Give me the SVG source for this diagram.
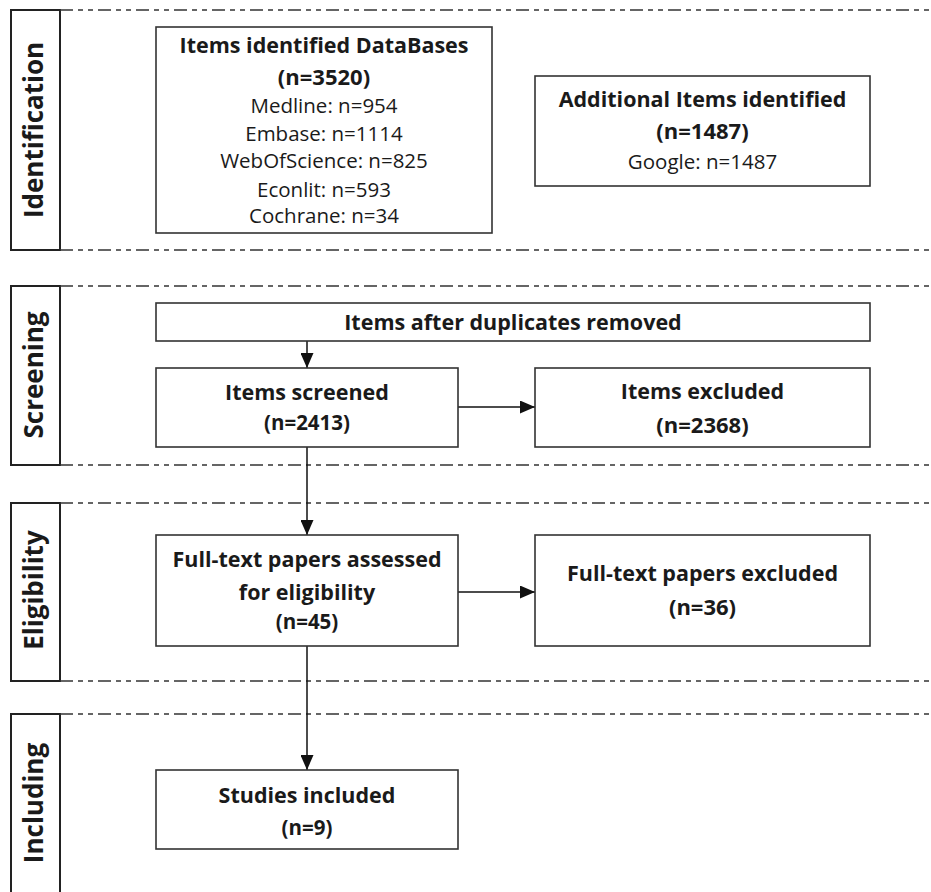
<svg xmlns="http://www.w3.org/2000/svg" width="931" height="892" viewBox="0 0 931 892">
<defs>
<marker id="ah" markerWidth="15" markerHeight="13" refX="15" refY="6.5" orient="auto" markerUnits="userSpaceOnUse">
<path d="M0,0 L15,6.5 L0,13 Z" fill="#111"/>
</marker>
<style>
.lane{fill:none;stroke:#222;stroke-width:2}
.dash{stroke:#333;stroke-width:1.6;stroke-dasharray:13 5 5 5 5 5;fill:none}
.box{fill:#fff;stroke:#333;stroke-width:1.6}
.conn{stroke:#111;stroke-width:1.5;fill:none}
text{font-family:"Open Sans",Lato,"Liberation Sans",sans-serif;fill:#1a1a1a;text-anchor:middle}
.t{font-weight:700;font-size:21.5px}
.n{font-weight:700;font-size:22px}
.s{font-weight:700;font-size:20.5px}
.r{font-size:20.5px}
.lbl{font-weight:700;font-size:26px}
</style>
</defs>
<rect width="931" height="892" fill="#fff"/>
<g id="lanes">
<g id="lane-identification">
<rect class="lane" x="11" y="10" width="49" height="240"/>
<line class="dash" x1="60" y1="10" x2="931" y2="10"/>
<line class="dash" x1="60" y1="250" x2="931" y2="250"/>
<text class="lbl" transform="translate(43,130) rotate(-90)">Identification</text>
</g>
<g id="lane-screening">
<rect class="lane" x="11" y="286" width="49" height="179"/>
<line class="dash" x1="60" y1="286" x2="931" y2="286"/>
<line class="dash" x1="60" y1="465" x2="931" y2="465"/>
<text class="lbl" transform="translate(43,375) rotate(-90)">Screening</text>
</g>
<g id="lane-eligibility">
<rect class="lane" x="11" y="503" width="49" height="178"/>
<line class="dash" x1="60" y1="503" x2="931" y2="503"/>
<line class="dash" x1="60" y1="681" x2="931" y2="681"/>
<text class="lbl" transform="translate(43,590) rotate(-90)">Eligibility</text>
</g>
<g id="lane-including">
<path class="lane" d="M11,893 L11,714 L60,714 L60,893"/>
<line class="dash" x1="60" y1="714" x2="931" y2="714"/>
<text class="lbl" transform="translate(43,803) rotate(-90)">Including</text>
</g>
</g>
<g id="connectors">
<line class="conn" x1="307" y1="341" x2="307" y2="368" marker-end="url(#ah)"/>
<line class="conn" x1="458" y1="407" x2="535" y2="407" marker-end="url(#ah)"/>
<line class="conn" x1="307" y1="447" x2="307" y2="535" marker-end="url(#ah)"/>
<line class="conn" x1="458" y1="592" x2="535" y2="592" marker-end="url(#ah)"/>
<line class="conn" x1="307" y1="646" x2="307" y2="770" marker-end="url(#ah)"/>
</g>
<g id="databases">
<rect class="box" x="156" y="27" width="336" height="206"/>
<text class="t" x="324" y="53">Items identified DataBases</text>
<text class="n" x="324" y="85">(n=3520)</text>
<text class="r" x="324" y="113">Medline: n=954</text>
<text class="r" x="324" y="141">Embase: n=1114</text>
<text class="r" x="324" y="168">WebOfScience: n=825</text>
<text class="r" x="324" y="197">Econlit: n=593</text>
<text class="r" x="324" y="223">Cochrane: n=34</text>
</g>
<g id="additional">
<rect class="box" x="535" y="76" width="335" height="110"/>
<text class="t" x="702.5" y="107">Additional Items identified</text>
<text class="n" x="702.5" y="139">(n=1487)</text>
<text class="r" x="702.5" y="169">Google: n=1487</text>
</g>
<g id="duplicates">
<rect class="box" x="156" y="303" width="714" height="38"/>
<text class="t" x="513" y="330">Items after duplicates removed</text>
</g>
<g id="screened">
<rect class="box" x="156" y="368" width="302" height="79"/>
<text class="t" x="307" y="400">Items screened</text>
<text class="s" x="307" y="430">(n=2413)</text>
</g>
<g id="excluded">
<rect class="box" x="535" y="368" width="335" height="79"/>
<text class="t" x="702.5" y="399">Items excluded</text>
<text class="n" x="702.5" y="433">(n=2368)</text>
</g>
<g id="fulltext">
<rect class="box" x="156" y="535" width="302" height="111"/>
<text class="t" x="307" y="567">Full-text papers assessed</text>
<text class="t" x="307" y="600">for eligibility</text>
<text class="s" x="307" y="629">(n=45)</text>
</g>
<g id="fulltext-excluded">
<rect class="box" x="535" y="535" width="335" height="111"/>
<text class="t" x="702.5" y="581">Full-text papers excluded</text>
<text class="n" x="702.5" y="615">(n=36)</text>
</g>
<g id="included">
<rect class="box" x="156" y="770" width="302" height="79"/>
<text class="t" x="307" y="803">Studies included</text>
<text class="s" x="307" y="835">(n=9)</text>
</g>
</svg>
